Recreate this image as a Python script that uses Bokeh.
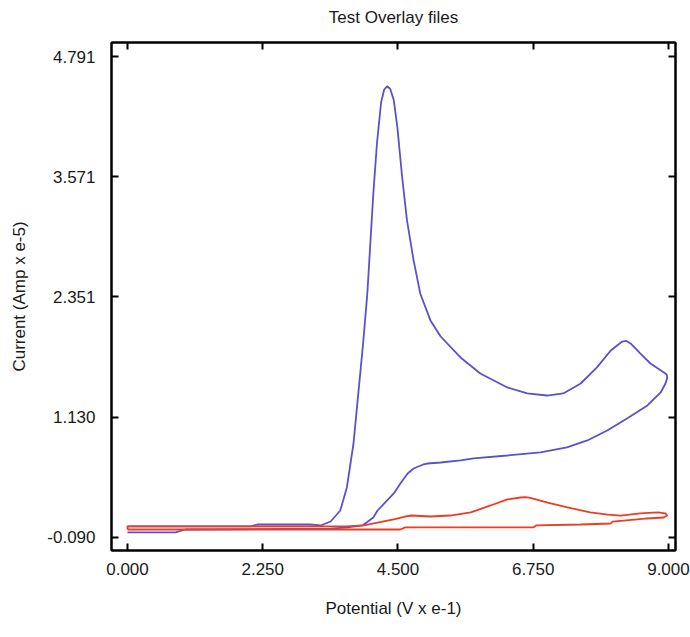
from bokeh.plotting import figure
from bokeh.models import (FixedTicker, PrintfTickFormatter, LinearAxis, Label,
                          CustomJSTickFormatter)
from bokeh.embed import file_html
from bokeh.resources import INLINE

# ---- data ----
title_text = "Test Overlay files"
x_label = "Potential (V x e-1)"
y_label = "Current (Amp x e-5)"
x_ticks = [0.0, 2.25, 4.5, 6.75, 9.0]
y_ticks = [-0.090, 1.130, 2.351, 3.571, 4.791]

# series 2 (blue): potential, current
s2_x = [0.00, 0.80, 0.96, 3.38, 3.66, 3.91, 4.09, 4.16, 4.32, 4.43, 4.54, 4.66,
        4.76, 4.92, 4.99, 5.21, 5.54, 5.76, 6.32, 6.87, 7.31, 7.65, 7.98, 8.31,
        8.65, 8.87, 8.95, 8.98, 8.97,
        8.90, 8.70, 8.53, 8.37, 8.30, 8.23, 8.04, 7.81, 7.54, 7.25, 6.98, 6.65,
        6.32, 5.87, 5.54, 5.21, 5.04, 4.87, 4.76, 4.65, 4.57, 4.49, 4.43, 4.37,
        4.32, 4.27, 4.22, 4.15, 4.09, 4.04, 3.99, 3.92, 3.84, 3.76, 3.65, 3.54,
        3.38, 3.21, 3.04, 2.16, 2.05, 0.00]
s2_y = [-0.039, -0.039, -0.009, 0.001, 0.012, 0.032, 0.113, 0.184, 0.286, 0.357,
        0.458, 0.560, 0.610, 0.651, 0.661, 0.671, 0.692, 0.712, 0.742, 0.773,
        0.824, 0.895, 0.996, 1.118, 1.250, 1.382, 1.473, 1.530, 1.565,
        1.595, 1.676, 1.778, 1.879, 1.905, 1.899, 1.808, 1.636, 1.473, 1.372,
        1.351, 1.372, 1.433, 1.575, 1.737, 1.950, 2.113, 2.387, 2.722, 3.128,
        3.564, 4.072, 4.350, 4.465, 4.490, 4.455, 4.330, 3.909, 3.402, 2.894,
        2.387, 1.879, 1.372, 0.864, 0.418, 0.184, 0.072, 0.032, 0.042, 0.042,
        0.022, 0.022]

# series 1 (red): potential, current
s1_x = [0.00, 4.54, 4.62, 6.75, 6.80, 7.54, 8.04, 8.07, 8.48, 8.65, 8.92, 8.98,
        8.95, 8.82, 8.53, 8.20, 7.99, 7.70, 7.32, 6.99, 6.70, 6.62, 6.54, 6.32,
        6.04, 5.71, 5.37, 5.04, 4.71, 4.62, 4.43, 3.93, 3.63, 0.00, 0.00]
s1_y = [-0.009, -0.009, 0.012, 0.012, 0.032, 0.042, 0.052, 0.072, 0.093, 0.103,
        0.113, 0.133, 0.154, 0.164, 0.154, 0.133, 0.143, 0.164, 0.215, 0.265,
        0.312, 0.320, 0.316, 0.296, 0.235, 0.164, 0.133, 0.123, 0.133, 0.123,
        0.093, 0.032, 0.022, 0.022, -0.009]

series_names = ["1", "2,"]
series_colors = ["#ee3b24", "#5a52c8"]

FONT = "Liberation Sans"
TXT = "#1a1a1a"
FS = "17px"

p = figure(width=690, height=637, output_backend="svg", toolbar_location=None,
           x_range=(-0.266, 9.117), y_range=(-0.222, 4.934),
           min_border_left=111, min_border_right=15, min_border_top=42,
           min_border_bottom=87)

p.xgrid.visible = False
p.ygrid.visible = False
p.outline_line_color = "black"
p.outline_line_width = 2

for ax, ticks in ((p.xaxis[0], x_ticks), (p.yaxis[0], y_ticks)):
    ax.ticker = FixedTicker(ticks=ticks)
    ax.formatter = PrintfTickFormatter(format="%.3f")
    ax.major_tick_in = 7
    ax.major_tick_out = 0
    ax.minor_tick_line_color = None
    ax.axis_line_color = "black"
    ax.axis_line_width = 2
    ax.major_tick_line_color = "black"
    ax.major_tick_line_width = 2
    ax.major_label_text_font = FONT
    ax.major_label_text_font_size = FS
    ax.major_label_text_color = TXT
    ax.axis_label_text_font = FONT
    ax.axis_label_text_font_size = FS
    ax.axis_label_text_font_style = "normal"
    ax.axis_label_text_color = TXT

p.xaxis[0].axis_label = x_label
p.xaxis[0].major_label_standoff = 12
p.xaxis[0].axis_label_standoff = 21
p.yaxis[0].axis_label = y_label
p.yaxis[0].major_label_standoff = 16
p.yaxis[0].axis_label_standoff = 15

# top axis: tick marks, chart title as its label; right axis: tick marks only
top = LinearAxis(ticker=FixedTicker(ticks=x_ticks), major_tick_in=7,
                 major_tick_out=0, minor_tick_line_color=None,
                 formatter=CustomJSTickFormatter(code="return ''"),
                 major_label_text_font_size="1px", major_label_standoff=0,
                 axis_line_color="black", axis_line_width=2,
                 major_tick_line_color="black", major_tick_line_width=2,
                 axis_label=title_text, axis_label_text_font=FONT,
                 axis_label_text_font_size=FS, axis_label_text_font_style="normal",
                 axis_label_text_color=TXT, axis_label_standoff=16)
p.add_layout(top, "above")
right = LinearAxis(ticker=FixedTicker(ticks=y_ticks), major_tick_in=7,
                   major_tick_out=0, minor_tick_line_color=None,
                   formatter=CustomJSTickFormatter(code="return ''"),
                   major_label_text_font_size="1px", major_label_standoff=0,
                   axis_line_color="black", axis_line_width=2,
                   major_tick_line_color="black", major_tick_line_width=2)
p.add_layout(right, "right")

p.line(s2_x, s2_y, line_color=series_colors[1], line_width=1.8)
p.line(s1_x, s1_y, line_color=series_colors[0], line_width=1.8)

# series key below the plot
p.add_layout(Label(x=-79, y=-71, x_units="screen", y_units="screen",
                   text=series_names[0], text_color=series_colors[0],
                   text_font=FONT, text_font_size=FS,
                   text_baseline="middle", text_align="left"))
p.add_layout(Label(x=-59, y=-71, x_units="screen", y_units="screen",
                   text=series_names[1], text_color=series_colors[1],
                   text_font=FONT, text_font_size=FS,
                   text_baseline="middle", text_align="left"))

open("out.html", "w").write(file_html(p, INLINE))
